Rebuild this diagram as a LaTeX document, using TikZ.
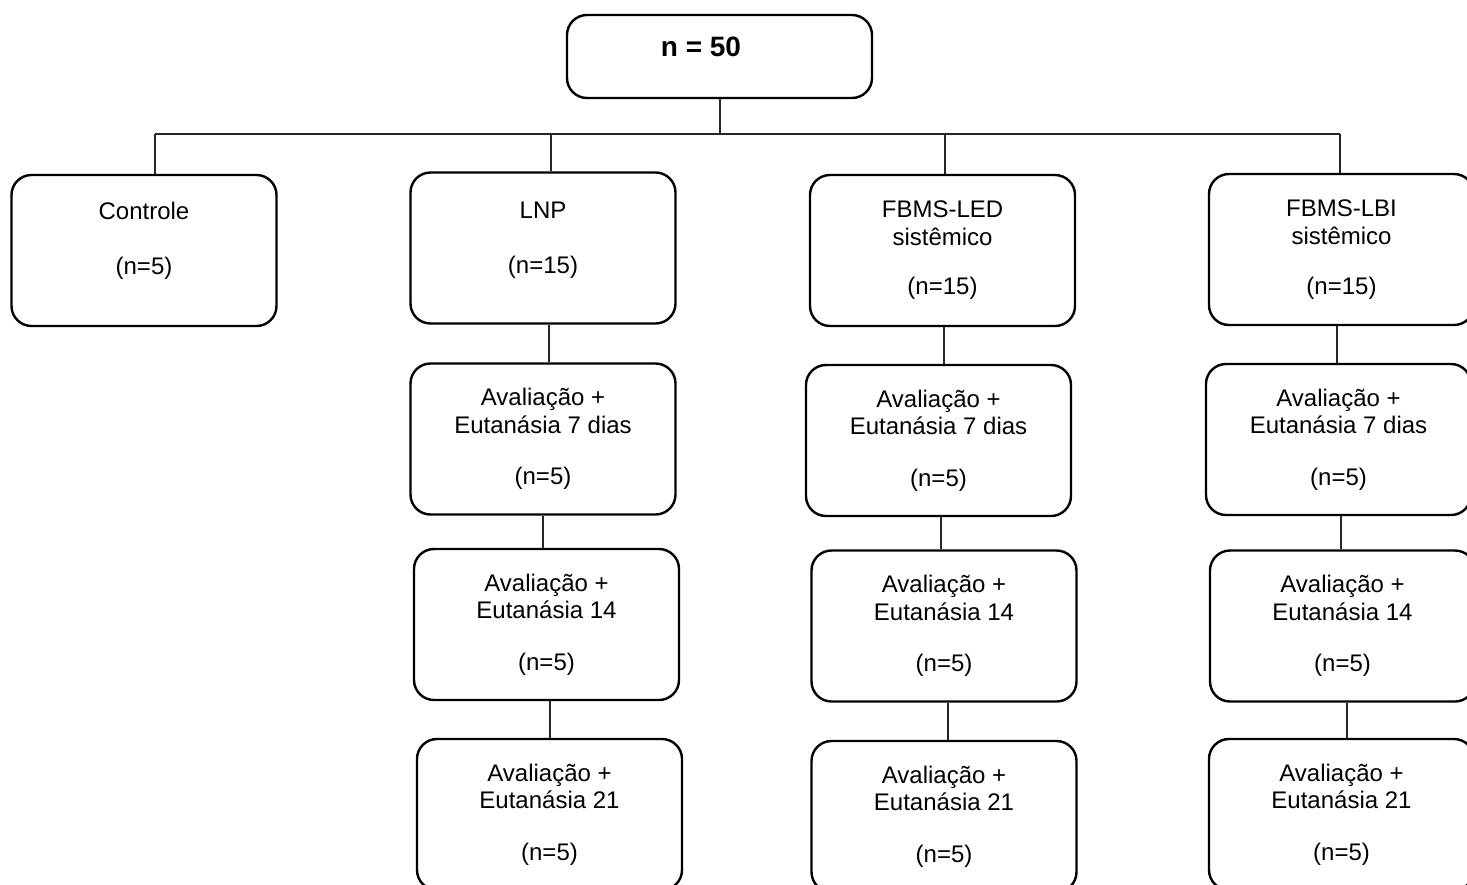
\documentclass[tikz,border=0pt]{standalone}
\usepackage{fontspec}
\setmainfont{Liberation Sans}
\begin{document}
\begin{tikzpicture}[x=0.5pt,y=-0.5pt,
  box/.style={draw=black, line width=1.2pt, rounded corners=10pt, rectangle,
    minimum width=132.5pt, minimum height=75.5pt, inner sep=0pt, align=center,
    font=\fontsize{12}{13.8}\selectfont},
  conn/.style={draw=black!85, line width=0.55pt}]
\useasboundingbox (0,0) rectangle (1467,884);
\clip (0,0) rectangle (1467,884);
% top
\node[box, minimum width=152.5pt, minimum height=41.5pt] (top) at (719.5,56.5) {};
\node[font=\fontsize{14}{16}\selectfont\bfseries, inner sep=0pt] (toptext) at (701,47) {n = 50};
% first row
\node[box, text depth=12.5pt] (ctrl) at (144,250.5) {Controle\\[13.5pt](n=5)};
\node[box, text depth=10pt] (lnp) at (543,248) {LNP\\[13.5pt](n=15)};
\node[box] (led) at (942.5,250.5) {FBMS-LED\\sistêmico\\[11pt](n=15)};
\node[box] (lbi) at (1341.5,249.5) {FBMS-LBI\\sistêmico\\[11pt](n=15)};
% second row
\node[box] (lnp7) at (543,439) {Avaliação +\\Eutanásia 7 dias\\[12pt](n=5)};
\node[box] (led7) at (938.5,440.5) {Avaliação +\\Eutanásia 7 dias\\[12pt](n=5)};
\node[box] (lbi7) at (1338.5,439.5) {Avaliação +\\Eutanásia 7 dias\\[12pt](n=5)};
% third row
\node[box] (lnp14) at (546.5,624.5) {Avaliação +\\Eutanásia 14\\[12pt](n=5)};
\node[box] (led14) at (944,626) {Avaliação +\\Eutanásia 14\\[12pt](n=5)};
\node[box] (lbi14) at (1342.5,626) {Avaliação +\\Eutanásia 14\\[12pt](n=5)};
% fourth row
\node[box] (lnp21) at (549.5,814.5) {Avaliação +\\Eutanásia 21\\[12pt](n=5)};
\node[box] (led21) at (944,816.5) {Avaliação +\\Eutanásia 21\\[12pt](n=5)};
\node[box] (lbi21) at (1341.5,814.5) {Avaliação +\\Eutanásia 21\\[12pt](n=5)};
% bus
\coordinate (busL) at (155,134);
\coordinate (busR) at (1340,134);
\draw[conn] (busL) -- (busR);
\draw[conn] (top.south -| 720,0) -- (busL -| 720,0);
\draw[conn] (busL) -- (ctrl.north -| busL);
\draw[conn] (busL -| 551,0) -- (lnp.north -| 551,0);
\draw[conn] (busL -| 945,0) -- (led.north -| 945,0);
\draw[conn] (busR) -- (lbi.north -| busR);
% columns
\draw[conn] (lnp.south -| 549,0) -- (lnp7.north -| 549,0);
\draw[conn] (led.south -| 944,0) -- (led7.north -| 944,0);
\draw[conn] (lbi.south -| 1337,0) -- (lbi7.north -| 1337,0);
\draw[conn] (lnp7.south -| 543,0) -- (lnp14.north -| 543,0);
\draw[conn] (led7.south -| 941,0) -- (led14.north -| 941,0);
\draw[conn] (lbi7.south -| 1341,0) -- (lbi14.north -| 1341,0);
\draw[conn] (lnp14.south -| 550,0) -- (lnp21.north -| 550,0);
\draw[conn] (led14.south -| 948,0) -- (led21.north -| 948,0);
\draw[conn] (lbi14.south -| 1347,0) -- (lbi21.north -| 1347,0);
\end{tikzpicture}
\end{document}
